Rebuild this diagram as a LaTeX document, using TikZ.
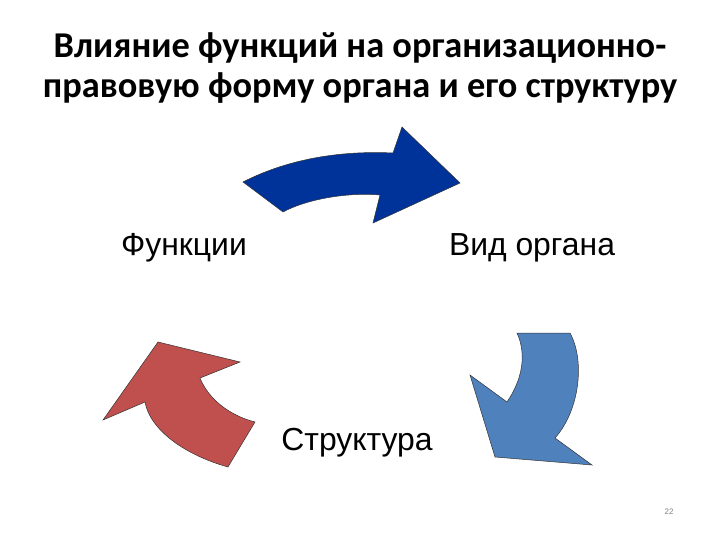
\documentclass[tikz,border=0pt]{standalone}
\usepackage{fontspec}
\setmainfont{Carlito}
\newfontfamily\labelfont{Liberation Sans}

\begin{document}
\begin{tikzpicture}[x=1bp,y=-1bp]

% Colors
\definecolor{arrowdark}{RGB}{0,51,153}
\definecolor{arrowred}{RGB}{192,80,77}
\definecolor{arrowlight}{RGB}{79,129,189}

\useasboundingbox (0,0) rectangle (720,540);

% Title
\node[font=\bfseries\fontsize{36.5}{40}\selectfont, align=center] (title) at (360,68)
  {Влияние функций на организационно-\\правовую форму органа и его структуру};

% Arrows
\fill[arrowdark, draw=black!80, line width=0.5bp]
  (243,182) .. controls (280,163) and (330,150) .. (393,153)
  -- (402,127) -- (460,183) -- (373,223) -- (380,195)
  .. controls (345,192) and (305,200) .. (283,212) -- cycle;

\fill[arrowlight, draw=black!80, line width=0.5bp]
  (517,333) -- (570,333) .. controls (585,360) and (580,410) .. (555,438)
  -- (592,465) -- (495,457) -- (470,375) -- (507,402)
  .. controls (522,380) and (527,355) .. (517,333) -- cycle;

\fill[arrowred, draw=black!80, line width=0.5bp]
  (158,342) -- (240,362) -- (200,378)
  .. controls (208,398) and (228,415) .. (255,422)
  -- (228,467) .. controls (185,455) and (150,430) .. (145,402)
  -- (103,420) -- cycle;

% Labels
\node[font=\labelfont\fontsize{32}{36}\selectfont] (functions) at (184,248) {Функции};
\node[font=\labelfont\fontsize{32}{36}\selectfont] (kind) at (532,248) {Вид органа};
\node[font=\labelfont\fontsize{32}{36}\selectfont] (structure) at (357,443) {Структура};

% Page number
\node[font=\labelfont\fontsize{8}{10}\selectfont, text=black!50] (pagenum) at (669,512) {22};

\end{tikzpicture}
\end{document}
